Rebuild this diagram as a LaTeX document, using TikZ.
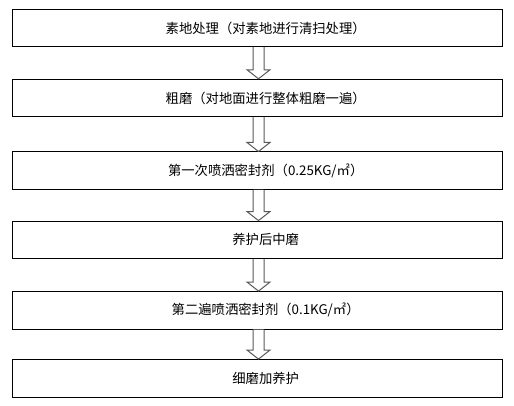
\documentclass[tikz,border=0pt]{standalone}
\usepackage{fontspec}
\setmainfont{Noto Sans CJK SC}
\usetikzlibrary{calc}

\begin{document}
\begin{tikzpicture}[
    x=0.75pt, y=0.75pt,
    every node/.style={font=\fontsize{10pt}{12pt}\selectfont},
    stepbox/.style={draw=black, line width=0.75pt, minimum width=367.5pt,
      minimum height=28.1pt, inner sep=0pt,
      execute at begin node=\hspace*{13pt}},
    flowarrow/.style={draw=black!65, line width=0.75pt, fill=white}
]
  \def\xmid{257}
  \def\shaft{5.5}
  \def\head{11.5}
  \def\tip{9}

  \useasboundingbox (0,0) rectangle (514,-405);

  \node[stepbox] (s1) at (\xmid, -28.0)  {素地处理（对素地进行清扫处理）};
  \node[stepbox] (s2) at (\xmid, -98.0)  {粗磨（对地面进行整体粗磨一遍）};
  \node[stepbox] (s3) at (\xmid, -170.7) {第一次喷洒密封剂（0.25KG/㎡）};
  \node[stepbox] (s4) at (\xmid, -239.8) {养护后中磨};
  \node[stepbox] (s5) at (\xmid, -310.3) {第二遍喷洒密封剂（0.1KG/㎡）};
  \node[stepbox] (s6) at (\xmid, -378.3) {细磨加养护};

  \foreach \from/\to in {s1/s2, s2/s3, s3/s4, s4/s5, s5/s6} {
    \draw[flowarrow]
      ($(\from.south)+(-\shaft+1.5,0)$) -- ($(\to.north)+(-\shaft+1.5,\tip)$)
      -- ($(\to.north)+(-\head+1.5,\tip)$) -- ($(\to.north)+(1.5,0)$)
      -- ($(\to.north)+(\head+1.5,\tip)$) -- ($(\to.north)+(\shaft+1.5,\tip)$)
      -- ($(\from.south)+(\shaft+1.5,0)$);
  }
\end{tikzpicture}
\end{document}
